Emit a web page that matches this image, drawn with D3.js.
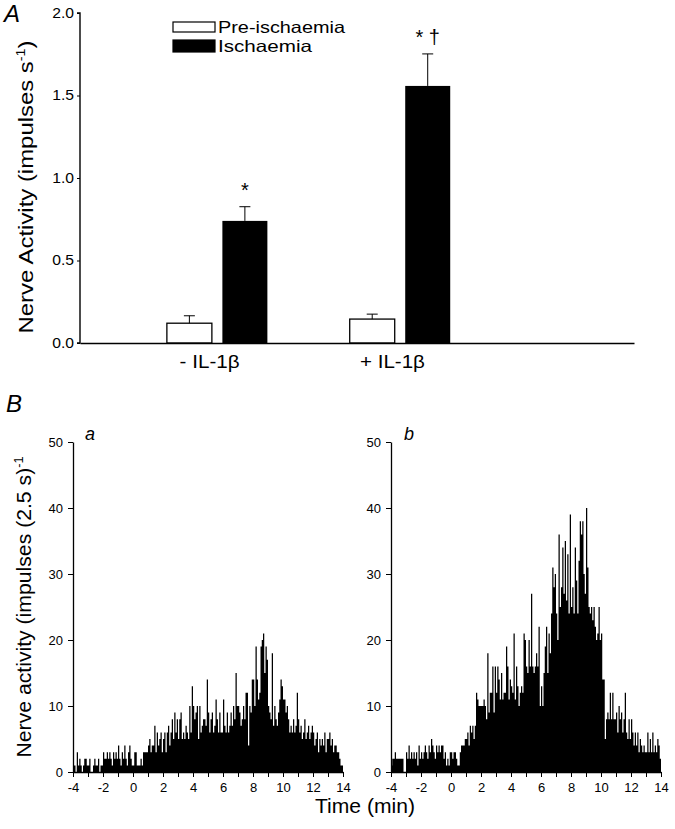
<!DOCTYPE html>
<html>
<head>
<meta charset="utf-8">
<script src="https://cdn.jsdelivr.net/npm/d3@7/dist/d3.min.js"></script>
<style>
  html, body { margin: 0; padding: 0; background: #fff; }
  svg { display: block; }
  text { font-family: "Liberation Sans", Arial, Helvetica, sans-serif; fill: #000; }
</style>
</head>
<body>
<svg id="chart" width="675" height="829"></svg>
<script>
// ---------------- DATA ----------------
// Panel A: grouped bars (mean + SEM)
const groups = ["- IL-1\u03B2", "+ IL-1\u03B2"];
const groupPos = [1, 2];
const seriesNames = ["Pre-ischaemia", "Ischaemia"];
const preMean = [0.12, 0.145];
const preSem = [0.045, 0.03];
const ischMean = [0.74, 1.558];
const ischSem = [0.086, 0.194];
const sigMarks = ["*", "* \u2020"];
const yTicksA = [0, 0.5, 1.0, 1.5, 2.0];

// Panel B: histograms, counts per 5-s bin, from -4 to 14 min (12 bins per minute)
const histA = [
  1,1,0,3,1,2,1,0,1,2,2,1,        // -4
  1,2,0,0,1,2,1,1,2,0,1,1,        // -3
  3,2,2,3,2,3,2,1,3,2,3,2,        // -2
  4,2,1,3,2,4,2,1,3,4,2,1,        // -1
  1,3,3,1,1,1,2,1,3,3,3,3,        // 0
  4,5,3,4,4,7,3,6,4,5,6,3,        // 1
  5,6,3,6,7,4,6,8,5,9,6,8,        // 2
  5,8,9,5,6,5,7,6,5,10,6,13,      // 3
  10,8,9,10,5,10,6,7,8,8,7,14,    // 4
  9,6,8,9,6,7,11,8,6,9,6,6,       // 5
  11,7,6,9,6,7,9,7,10,8,15,10,    // 6
  10,9,7,8,10,8,12,12,4,10,9,14,  // 7
  14,10,19,14,11,12,19,20,21,15,19,17, // 8
  10,9,8,18,7,10,8,7,9,11,14,13,  // 9
  11,11,9,10,8,6,7,6,8,6,7,12,    // 10
  8,6,7,5,6,8,5,6,7,5,6,7,        // 11
  6,4,5,6,3,5,4,5,4,6,3,5,        // 12
  5,6,4,5,3,4,4,3,3,2,1,1         // 13
];
const histB = [
  1,2,2,3,2,2,2,2,2,2,0,0,        // -4
  3,2,4,2,3,2,3,2,3,1,4,2,        // -3
  3,2,3,4,3,2,4,3,5,4,3,2,        // -2
  4,3,4,3,4,4,2,3,1,2,1,3,        // -1
  3,2,3,3,2,1,1,3,4,4,4,5,        // 0
  5,6,4,7,6,7,5,7,12,11,10,10,    // 1
  10,10,11,10,8,18,9,12,12,16,9,16, // 2
  12,16,14,11,15,11,12,12,19,16,11,14, // 3
  13,12,21,11,16,13,10,12,13,12,21,20, // 4
  16,15,20,16,27,16,15,16,18,16,22,10, // 5
  13,10,15,19,22,15,21,18,24,31,28,30, // 6
  24,20,36,25,28,34,27,35,26,33,24,39, // 7
  25,28,24,34,29,24,32,38,36,38,30,27, // 8
  40,31,25,24,25,23,25,22,20,21,25,20, // 9
  21,14,14,5,8,9,8,12,8,12,8,8,   // 10
  9,6,10,8,9,6,8,12,6,5,8,5,      // 11
  8,6,4,6,4,6,3,5,4,3,4,3,        // 12
  3,6,3,5,3,6,3,4,3,5,4,2         // 13
];
const histStart = -4, binsPerMin = 12;
const xTicksB = d3.range(-4, 15, 1);
const xTickLabelsB = [-4, -2, 0, 2, 4, 6, 8, 10, 12, 14];
const yTicksB = [0, 10, 20, 30, 40, 50];

// ---------------- DRAW ----------------
const svg = d3.select("#chart");
const FONT = '"Liberation Sans", Arial, Helvetica, sans-serif';

function stretch(sel, len) {
  sel.attr("textLength", len).attr("lengthAdjust", "spacingAndGlyphs");
}
function widen(sel, f) {
  sel.each(function () {
    const w = this.getComputedTextLength();
    if (w > 0) d3.select(this).attr("textLength", w * f).attr("lengthAdjust", "spacingAndGlyphs");
  });
}

// ===== Panel A =====
const xA = d3.scaleLinear().domain([0.25, 3.28]).range([80, 634]);
const yA = d3.scaleLinear().domain([0, 2]).range([343, 13]);
const barW = 45, barGap = 5.25;

const gA = svg.append("g");

groupPos.forEach((g, i) => {
  const cx = xA(g);
  gA.append("rect")
    .attr("x", cx - barGap - barW).attr("y", yA(preMean[i]))
    .attr("width", barW).attr("height", yA(0) - yA(preMean[i]))
    .attr("fill", "#fff").attr("stroke", "#000").attr("stroke-width", 1.3);
  gA.append("rect")
    .attr("x", cx + barGap).attr("y", yA(ischMean[i]))
    .attr("width", barW).attr("height", yA(0) - yA(ischMean[i]))
    .attr("fill", "#000");
  const eb = [
    { x: cx - barGap - barW / 2, m: preMean[i], s: preSem[i] },
    { x: cx + barGap + barW / 2, m: ischMean[i], s: ischSem[i] }
  ];
  eb.forEach(e => {
    gA.append("line").attr("x1", e.x).attr("x2", e.x)
      .attr("y1", yA(e.m)).attr("y2", yA(e.m + e.s))
      .attr("stroke", "#000").attr("stroke-width", 1);
    gA.append("line").attr("x1", e.x - 5.5).attr("x2", e.x + 5.5)
      .attr("y1", yA(e.m + e.s)).attr("y2", yA(e.m + e.s))
      .attr("stroke", "#000").attr("stroke-width", 1);
  });
  gA.append("text")
    .attr("x", cx + barGap + barW / 2)
    .attr("y", yA(ischMean[i] + ischSem[i]) - 10)
    .attr("text-anchor", "middle")
    .style("font-size", "20px")
    .text(sigMarks[i]);
  gA.append("text")
    .attr("x", xA(g) - 7.5).attr("y", 368)
    .attr("text-anchor", "middle")
    .style("font-size", "18px")
    .call(stretch, i === 0 ? 60 : 65)
    .text(groups[i]);
});

const axA = gA.append("g").attr("transform", "translate(80,0)")
  .call(d3.axisLeft(yA).tickValues(yTicksA).tickFormat(d3.format(".1f")).tickSize(3).tickPadding(3));
axA.select(".domain").attr("stroke-width", 1.4).attr("d", "M-3,13H0V343H-3");
axA.selectAll("text").style("font-size", "14px").style("font-family", FONT).attr("fill", "#000")
  .call(widen, 1.12);
const axAx = gA.append("g").attr("transform", "translate(0,343)")
  .call(d3.axisBottom(xA).tickValues([]).tickSizeOuter(0));
axAx.select(".domain").attr("stroke-width", 1.4);

const ylA = gA.append("text")
  .attr("transform", "translate(33,187) rotate(-90)")
  .attr("text-anchor", "middle")
  .style("font-size", "20px");
ylA.append("tspan").text("Nerve Activity (impulses s");
ylA.append("tspan").attr("dy", -8).style("font-size", "12px").text("-1");
ylA.append("tspan").attr("dy", 8).text(")");
ylA.call(stretch, 293);

const legY = [22, 40];
seriesNames.forEach((name, i) => {
  gA.append("rect").attr("x", 173).attr("y", legY[i])
    .attr("width", 42).attr("height", i === 0 ? 10 : 12)
    .attr("fill", i === 0 ? "#fff" : "#000")
    .attr("stroke", "#000").attr("stroke-width", 1.2);
  gA.append("text").attr("x", 218).attr("y", i === 0 ? 33 : 52)
    .style("font-size", "16.5px")
    .call(stretch, i === 0 ? 127 : 94)
    .text(name);
});

svg.append("text").attr("x", 4).attr("y", 22)
  .style("font-size", "24px").style("font-style", "italic").text("A");

// ===== Panel B =====
svg.append("text").attr("x", 6).attr("y", 412)
  .style("font-size", "24px").style("font-style", "italic").text("B");

function histPanel(data, x0, x1, letter, letterX) {
  const x = d3.scaleLinear().domain([-4, 14]).range([x0, x1]);
  const y = d3.scaleLinear().domain([0, 50]).range([772, 442]);
  const g = svg.append("g");
  const dt = 1 / binsPerMin;
  const pts = data.map((d, i) => ({ t: histStart + i * dt, v: d }));
  pts.push({ t: histStart + data.length * dt, v: data[data.length - 1] });
  const area = d3.area()
    .x(d => x(d.t))
    .y0(y(0))
    .y1(d => y(d.v))
    .curve(d3.curveStepAfter);
  g.append("path").datum(pts).attr("d", area).attr("fill", "#000");

  const ax = g.append("g").attr("transform", "translate(0,772)")
    .call(d3.axisBottom(x).tickValues(xTicksB)
      .tickFormat(d => xTickLabelsB.includes(d) ? d : "")
      .tickSize(5).tickPadding(6).tickSizeOuter(0));
  ax.select(".domain").attr("stroke-width", 1.3);
  ax.selectAll("text").style("font-size", "13px").style("font-family", FONT).attr("fill", "#000");

  const ay = g.append("g").attr("transform", `translate(${x0},0)`)
    .call(d3.axisLeft(y).tickValues(yTicksB).tickSize(5).tickPadding(5).tickSizeOuter(0));
  ay.select(".domain").attr("stroke-width", 1.3);
  ay.selectAll("text").style("font-size", "13px").style("font-family", FONT).attr("fill", "#000");

  g.append("text").attr("x", letterX).attr("y", 440)
    .style("font-size", "18px").style("font-style", "italic").text(letter);
}
histPanel(histA, 73, 343, "a", 85);
histPanel(histB, 391, 661, "b", 404);

const ylB = svg.append("text")
  .attr("transform", "translate(31,607) rotate(-90)")
  .attr("text-anchor", "middle")
  .style("font-size", "20px");
ylB.append("tspan").text("Nerve activity (impulses (2.5 s)");
ylB.append("tspan").attr("dy", -8).style("font-size", "12px").text("-1");
ylB.call(stretch, 301);

svg.append("text").attr("x", 365).attr("y", 813)
  .attr("text-anchor", "middle")
  .style("font-size", "20px")
  .call(stretch, 100)
  .text("Time (min)");
</script>
</body>
</html>
